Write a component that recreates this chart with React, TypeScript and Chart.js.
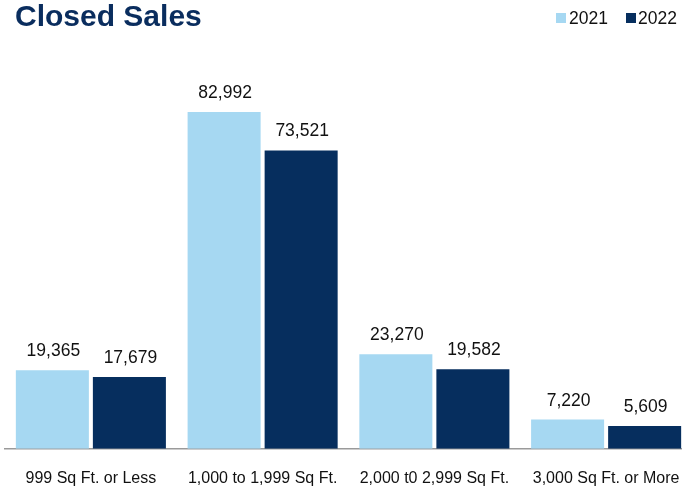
import React, { useEffect, useRef } from "react";
import { Chart, registerables } from "chart.js";

Chart.register(...registerables);

const categories = [
  "999 Sq Ft. or Less",
  "1,000 to 1,999 Sq Ft.",
  "2,000 t0 2,999 Sq Ft.",
  "3,000 Sq Ft. or More",
];
const sales2021 = [19365, 82992, 23270, 7220];
const sales2022 = [17679, 73521, 19582, 5609];
const seriesLabels = ["2021", "2022"];

const LIGHT = "#A6D8F2";
const NAVY = "#062E5E";
const FONT = "'Liberation Sans', Arial, Helvetica, sans-serif";

const valueLabels = {
  id: "valueLabels",
  afterDatasetsDraw(chart: any) {
    const ctx = chart.ctx;
    ctx.save();
    ctx.font = `17.5px ${FONT}`;
    ctx.fillStyle = "#111111";
    ctx.textAlign = "center";
    ctx.textBaseline = "alphabetic";
    chart.data.datasets.forEach((ds: any, i: number) => {
      const meta = chart.getDatasetMeta(i);
      meta.data.forEach((bar: any, j: number) => {
        const v = ds.data[j] as number;
        ctx.fillText(v.toLocaleString("en-US"), bar.x + 1, bar.y - 14);
      });
    });
    ctx.restore();
  },
};

export default function App() {
  const ref = useRef<HTMLCanvasElement | null>(null);
  useEffect(() => {
    if (!ref.current) return;
    const chart = new Chart(ref.current, {
      type: "bar",
      data: {
        labels: categories,
        datasets: [
          { label: seriesLabels[0], data: sales2021, backgroundColor: LIGHT },
          { label: seriesLabels[1], data: sales2022, backgroundColor: NAVY },
        ],
      },
      options: {
        animation: false,
        responsive: false,
        maintainAspectRatio: false,
        layout: { padding: { left: 5, right: 0, top: 43, bottom: 1 } },
        datasets: {
          bar: { categoryPercentage: 0.897, barPercentage: 0.948 },
        } as any,
        plugins: {
          legend: { display: false },
          tooltip: { enabled: false },
          title: { display: false },
        },
        scales: {
          x: {
            grid: { display: false, drawTicks: true, tickLength: 18 },
            border: { display: true, color: "#9a9a9a", width: 1.5 },
            ticks: {
              color: "#111111",
              padding: 2,
              font: { family: FONT, size: 16 },
              maxRotation: 0,
              autoSkip: false,
            },
          },
          y: {
            display: false,
            min: 0,
            max: 100000,
          },
        },
      },
      plugins: [valueLabels],
    });
    return () => chart.destroy();
  }, []);

  const legendText: React.CSSProperties = {
    position: "absolute",
    top: 10,
    fontFamily: FONT,
    fontSize: "17.5px",
    lineHeight: 1,
    color: "#111111",
    whiteSpace: "nowrap",
  };
  const sq = (color: string, left: number): React.CSSProperties => ({
    position: "absolute",
    left,
    top: 13,
    width: 10,
    height: 10,
    background: color,
  });

  return (
    <div
      style={{
        position: "absolute",
        left: 0,
        top: 0,
        width: 682,
        height: 486,
        overflow: "hidden",
        background: "#ffffff",
      }}
    >
      <canvas
        ref={ref}
        width={692}
        height={491}
        style={{ position: "absolute", left: 0, top: 0, width: 692, height: 491 }}
      />
      <div
        style={{
          position: "absolute",
          left: 15,
          top: 1,
          fontFamily: FONT,
          fontWeight: "bold",
          fontSize: "30px",
          lineHeight: 1,
          color: "#0A2D5E",
          whiteSpace: "nowrap",
        }}
      >
        Closed Sales
      </div>
      <div style={sq(LIGHT, 556)} />
      <div style={{ ...legendText, left: 569 }}>{seriesLabels[0]}</div>
      <div style={sq(NAVY, 626)} />
      <div style={{ ...legendText, left: 638 }}>{seriesLabels[1]}</div>
    </div>
  );
}
